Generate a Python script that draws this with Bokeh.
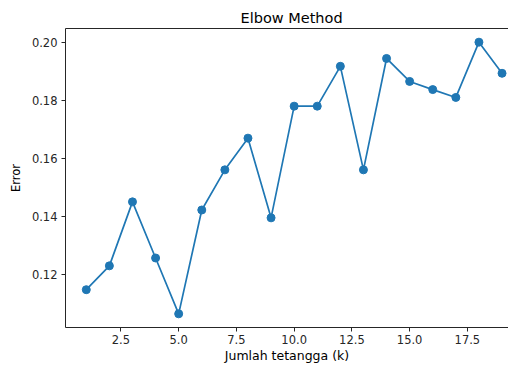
from bokeh.plotting import figure
from bokeh.models import LinearAxis, FixedTicker, Range1d, Title
from bokeh.embed import file_html
from bokeh.resources import INLINE

k_values = list(range(1, 20))
errors = [0.1149, 0.1231, 0.1451, 0.1258, 0.1066, 0.1423, 0.1561, 0.1670, 0.1396,
          0.1780, 0.1780, 0.1917, 0.1561, 0.1944, 0.1865, 0.1837, 0.1810, 0.2000, 0.1893]
x_ticks = [2.5, 5.0, 7.5, 10.0, 12.5, 15.0, 17.5]
y_ticks = [0.12, 0.14, 0.16, 0.18, 0.20]

FONT = "DejaVu Sans"
BLUE = "#1f77b4"
INK = "#262626"

Y0, Y1 = 0.1019, 0.2047
p = figure(width=508, height=365, output_backend="svg", toolbar_location=None,
           x_range=Range1d(0.1, 19.28), y_range=Range1d(Y0, Y1),
           min_border_left=65, min_border_right=0, min_border_top=28, min_border_bottom=37,
           x_axis_label="Jumlah tetangga (k)", y_axis_label="Error")
p.outline_line_color = None
p.grid.visible = False
p.background_fill_color = "white"
p.border_fill_color = "white"

p.xaxis.ticker = FixedTicker(ticks=x_ticks)
p.yaxis.ticker = FixedTicker(ticks=y_ticks)
p.xaxis.major_label_overrides = {t: f"{t:.1f}" for t in x_ticks}
p.yaxis.major_label_overrides = {t: f"{t:.2f}" for t in y_ticks}

for ax in (p.xaxis[0], p.yaxis[0]):
    ax.minor_tick_line_color = None
    ax.major_tick_in = 0
    ax.major_tick_out = 4
    ax.major_tick_line_color = INK
    ax.axis_line_color = INK
    ax.axis_line_width = 1
    ax.major_label_text_font = FONT
    ax.major_label_text_font_size = "11.5px"
    ax.major_label_text_color = INK
    ax.axis_label_text_font = FONT
    ax.axis_label_text_font_style = "normal"
    ax.axis_label_text_color = "black"
p.xaxis.axis_label_text_font_size = "12.5px"
p.yaxis.axis_label_text_font_size = "11.5px"
p.xaxis.major_label_standoff = 3
p.xaxis.axis_label_standoff = 1
p.yaxis.major_label_standoff = 4
p.yaxis.axis_label_standoff = 6

top = LinearAxis(ticker=FixedTicker(ticks=[]), major_tick_line_color=None,
                 minor_tick_line_color=None, major_label_text_font_size="0px",
                 axis_line_color=INK, axis_line_width=1)
p.add_layout(top, "above")

title = Title(text="Elbow Method", text_font=FONT, text_font_size="14.5px",
              text_font_style="normal", text_color="black", align="left",
              standoff=5, offset=175)
p.add_layout(title, "above")

p.line(k_values, errors, line_color=BLUE, line_width=1.7)
p.scatter(k_values, errors, size=8, fill_color=BLUE, line_color=BLUE)

with open("out.html", "w") as f:
    f.write(file_html(p, INLINE))
